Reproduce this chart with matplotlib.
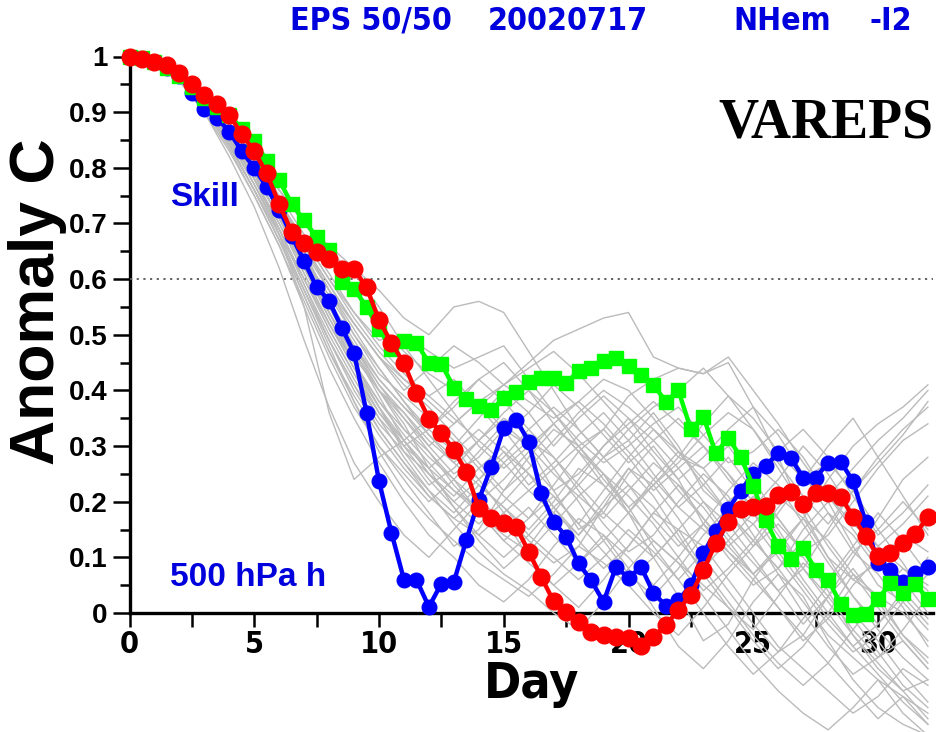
import numpy as np
import matplotlib
matplotlib.use("Agg")
import matplotlib.pyplot as plt

# --- data (days every 0.5) ---
days = np.arange(0, 32.01, 0.5)

skill_blue = [1.0, 0.995, 0.99, 0.98, 0.965, 0.935, 0.905, 0.89, 0.865, 0.83,
              0.80, 0.765, 0.725, 0.678, 0.632, 0.586, 0.561, 0.513, 0.468, 0.36,
              0.237, 0.144, 0.06, 0.06, 0.011, 0.053, 0.056, 0.131, 0.203, 0.263,
              0.332, 0.347, 0.308, 0.215, 0.164, 0.137, 0.089, 0.059, 0.02, 0.083,
              0.063, 0.083, 0.036, 0.013, 0.023, 0.05, 0.107, 0.147, 0.187, 0.22,
              0.25, 0.265, 0.287, 0.279, 0.243, 0.243, 0.27, 0.272, 0.237, 0.164,
              0.09, 0.077, 0.056, 0.072, 0.083]

skill_red = [1.0, 0.995, 0.99, 0.985, 0.97, 0.95, 0.93, 0.915, 0.895, 0.86,
             0.83, 0.79, 0.735, 0.685, 0.664, 0.649, 0.636, 0.619, 0.618, 0.585,
             0.527, 0.485, 0.449, 0.395, 0.349, 0.323, 0.293, 0.254, 0.188, 0.17,
             0.161, 0.155, 0.11, 0.065, 0.021, 0.002, -0.016, -0.034, -0.04, -0.043,
             -0.045, -0.06, -0.043, -0.022, 0.006, 0.033, 0.077, 0.125, 0.163, 0.186,
             0.19, 0.193, 0.212, 0.218, 0.196, 0.215, 0.215, 0.209, 0.173, 0.138,
             0.102, 0.108, 0.125, 0.142, 0.173]

skill_green = [1.0, 0.997, 0.99, 0.98, 0.965, 0.945, 0.925, 0.91, 0.895, 0.87,
               0.848, 0.813, 0.778, 0.735, 0.706, 0.675, 0.652, 0.595, 0.583, 0.55,
               0.51, 0.475, 0.488, 0.485, 0.45, 0.448, 0.405, 0.385, 0.372, 0.365,
               0.386, 0.398, 0.415, 0.422, 0.422, 0.413, 0.435, 0.44, 0.452, 0.458,
               0.443, 0.428, 0.41, 0.38, 0.40, 0.33, 0.353, 0.287, 0.315, 0.28,
               0.228, 0.167, 0.12, 0.097, 0.116, 0.078, 0.06, 0.017, -0.003, -0.002,
               0.025, 0.054, 0.036, 0.052, 0.025]

# ensemble members (gray), one value per day 0..32
member_days = np.arange(0, 33)
members = [
    [1.0,0.99,0.965,0.92,0.86,0.79,0.71,0.62,0.54,0.47,0.40,0.36,0.30,0.25,0.28,0.33,0.30,0.22,0.15,0.18,0.25,0.30,0.24,0.16,0.10,0.05,0.08,0.15,0.20,0.12,0.05,0.02,-0.03],
    [1.0,0.99,0.97,0.93,0.88,0.82,0.76,0.70,0.66,0.62,0.58,0.53,0.50,0.55,0.56,0.54,0.47,0.40,0.33,0.28,0.31,0.36,0.30,0.22,0.18,0.13,0.08,0.02,-0.04,-0.08,-0.12,-0.15,-0.18],
    [1.0,0.99,0.96,0.91,0.84,0.76,0.67,0.57,0.47,0.38,0.30,0.24,0.18,0.12,0.15,0.22,0.28,0.33,0.30,0.25,0.18,0.10,0.03,-0.05,-0.02,0.06,0.12,0.10,0.04,-0.04,-0.10,-0.14,-0.12],
    [1.0,0.99,0.965,0.92,0.85,0.77,0.69,0.60,0.51,0.43,0.35,0.30,0.33,0.38,0.42,0.45,0.40,0.34,0.29,0.33,0.39,0.42,0.44,0.43,0.45,0.37,0.28,0.18,0.10,0.06,0.03,0.00,-0.05],
    [1.0,0.99,0.97,0.925,0.865,0.80,0.73,0.65,0.56,0.48,0.40,0.34,0.26,0.19,0.13,0.08,0.12,0.18,0.24,0.30,0.35,0.31,0.26,0.20,0.14,0.09,0.04,0.08,0.15,0.22,0.28,0.33,0.37],
    [1.0,0.99,0.96,0.90,0.83,0.75,0.66,0.55,0.44,0.35,0.27,0.20,0.14,0.10,0.05,0.02,0.06,0.12,0.17,0.14,0.08,0.01,-0.06,-0.10,-0.05,0.02,0.07,0.03,-0.05,-0.12,-0.17,-0.20,-0.22],
    [1.0,0.99,0.97,0.93,0.87,0.81,0.74,0.66,0.59,0.52,0.46,0.41,0.37,0.32,0.27,0.22,0.26,0.31,0.36,0.40,0.37,0.33,0.28,0.26,0.30,0.24,0.17,0.11,0.14,0.20,0.26,0.31,0.34],
    [1.0,0.99,0.965,0.915,0.85,0.78,0.70,0.61,0.52,0.44,0.37,0.29,0.23,0.26,0.31,0.35,0.32,0.26,0.20,0.13,0.07,0.03,0.08,0.14,0.19,0.16,0.10,0.04,-0.02,-0.07,-0.04,0.02,0.07],
    [1.0,0.99,0.97,0.93,0.87,0.80,0.73,0.65,0.58,0.50,0.43,0.39,0.35,0.30,0.24,0.18,0.13,0.09,0.12,0.19,0.26,0.23,0.17,0.10,0.04,-0.02,-0.07,-0.04,0.03,0.10,0.17,0.24,0.28],
    [1.0,0.99,0.965,0.92,0.86,0.78,0.69,0.59,0.49,0.40,0.33,0.27,0.21,0.17,0.21,0.27,0.31,0.28,0.22,0.16,0.11,0.14,0.20,0.25,0.21,0.14,0.07,0.00,-0.06,-0.11,-0.08,-0.03,0.03],
    [1.0,0.99,0.97,0.93,0.88,0.82,0.75,0.68,0.61,0.54,0.49,0.50,0.47,0.44,0.46,0.48,0.42,0.36,0.30,0.24,0.19,0.23,0.27,0.32,0.36,0.33,0.26,0.19,0.12,0.06,0.09,0.14,0.11],
    [1.0,0.985,0.955,0.90,0.82,0.73,0.62,0.49,0.37,0.27,0.20,0.14,0.10,0.15,0.20,0.17,0.10,0.05,0.01,0.06,0.12,0.18,0.15,0.08,0.02,-0.04,-0.09,-0.13,-0.09,-0.03,0.03,0.08,0.05],
    [1.0,0.99,0.97,0.93,0.87,0.81,0.74,0.67,0.60,0.53,0.47,0.42,0.38,0.34,0.38,0.41,0.38,0.35,0.38,0.42,0.40,0.35,0.29,0.23,0.18,0.12,0.18,0.24,0.21,0.15,0.09,0.04,-0.01],
    [1.0,0.99,0.965,0.92,0.86,0.79,0.71,0.63,0.55,0.47,0.39,0.31,0.25,0.20,0.16,0.20,0.25,0.21,0.16,0.11,0.06,0.10,0.15,0.12,0.06,0.00,-0.06,-0.10,-0.14,-0.18,-0.15,-0.10,-0.13],
    [1.0,0.99,0.97,0.93,0.87,0.80,0.72,0.64,0.57,0.50,0.44,0.38,0.32,0.27,0.31,0.36,0.40,0.36,0.31,0.27,0.30,0.34,0.37,0.32,0.27,0.29,0.33,0.28,0.21,0.26,0.31,0.35,0.40],
    [1.0,0.99,0.96,0.91,0.84,0.76,0.68,0.60,0.52,0.45,0.38,0.32,0.27,0.22,0.18,0.14,0.11,0.16,0.21,0.25,0.21,0.16,0.10,0.04,0.08,0.13,0.19,0.24,0.27,0.22,0.15,0.09,0.02],
    [1.0,0.99,0.97,0.935,0.88,0.82,0.76,0.70,0.65,0.61,0.55,0.48,0.42,0.36,0.30,0.26,0.30,0.34,0.29,0.23,0.18,0.13,0.09,0.05,0.01,-0.03,0.03,0.09,0.05,-0.01,-0.07,-0.13,-0.17],
    [1.0,0.99,0.965,0.92,0.855,0.78,0.70,0.62,0.54,0.46,0.40,0.35,0.30,0.34,0.38,0.33,0.27,0.22,0.25,0.30,0.34,0.38,0.34,0.30,0.25,0.20,0.14,0.08,0.03,-0.03,-0.08,-0.05,-0.10],
    [1.0,0.99,0.97,0.925,0.86,0.79,0.71,0.63,0.55,0.48,0.41,0.36,0.31,0.27,0.23,0.19,0.15,0.20,0.26,0.23,0.18,0.23,0.28,0.34,0.39,0.35,0.29,0.24,0.30,0.35,0.28,0.21,0.14],
    [1.0,0.99,0.965,0.915,0.85,0.77,0.68,0.58,0.48,0.38,0.29,0.22,0.17,0.13,0.09,0.06,0.03,0.07,0.12,0.09,0.05,0.00,-0.04,0.01,0.07,0.12,0.16,0.11,0.05,0.00,-0.05,-0.11,-0.16],
    [1.0,0.99,0.97,0.93,0.875,0.81,0.74,0.66,0.58,0.52,0.46,0.40,0.44,0.48,0.45,0.41,0.44,0.47,0.43,0.38,0.33,0.28,0.22,0.17,0.12,0.16,0.21,0.17,0.10,0.03,-0.02,0.04,0.10],
    [1.0,0.99,0.965,0.92,0.86,0.79,0.68,0.55,0.36,0.24,0.28,0.31,0.25,0.20,0.24,0.29,0.25,0.19,0.14,0.20,0.26,0.21,0.14,0.07,0.01,-0.05,-0.10,-0.06,0.00,0.07,0.03,-0.04,-0.09],
    [1.0,0.99,0.97,0.93,0.87,0.80,0.72,0.63,0.54,0.45,0.37,0.30,0.24,0.19,0.14,0.10,0.14,0.19,0.23,0.28,0.33,0.37,0.40,0.44,0.39,0.33,0.27,0.21,0.16,0.22,0.27,0.32,0.38],
    [1.0,0.99,0.965,0.92,0.855,0.78,0.69,0.59,0.50,0.42,0.35,0.28,0.22,0.16,0.11,0.07,0.04,0.00,-0.03,0.02,0.08,0.13,0.09,0.03,-0.03,-0.09,-0.14,-0.18,-0.21,-0.17,-0.12,-0.18,-0.22],
    [1.0,0.99,0.97,0.935,0.88,0.82,0.76,0.70,0.64,0.58,0.52,0.47,0.43,0.40,0.37,0.41,0.45,0.49,0.51,0.53,0.54,0.46,0.44,0.43,0.46,0.40,0.34,0.27,0.21,0.16,0.12,0.08,0.04],
    [1.0,0.99,0.965,0.92,0.86,0.79,0.71,0.62,0.53,0.45,0.38,0.33,0.29,0.24,0.20,0.24,0.29,0.34,0.38,0.34,0.29,0.24,0.19,0.15,0.11,0.07,0.11,0.17,0.24,0.30,0.34,0.37,0.41],
    [1.0,0.99,0.965,0.915,0.85,0.77,0.68,0.58,0.49,0.41,0.34,0.29,0.25,0.21,0.26,0.30,0.25,0.19,0.13,0.08,0.12,0.18,0.23,0.19,0.13,0.07,0.01,-0.05,-0.01,0.05,0.10,0.06,0.00],
    [1.0,0.99,0.97,0.93,0.87,0.80,0.72,0.64,0.56,0.49,0.42,0.37,0.32,0.28,0.24,0.28,0.33,0.37,0.33,0.28,0.23,0.17,0.12,0.16,0.22,0.27,0.23,0.16,0.09,0.03,-0.03,-0.08,-0.12],
    [1.0,0.99,0.96,0.905,0.835,0.75,0.66,0.56,0.46,0.37,0.30,0.25,0.20,0.24,0.18,0.13,0.17,0.23,0.29,0.25,0.19,0.12,0.06,0.00,-0.06,-0.11,-0.07,-0.01,0.05,0.11,0.07,0.01,-0.06],
    [1.0,0.99,0.97,0.925,0.865,0.79,0.71,0.63,0.55,0.48,0.42,0.37,0.33,0.29,0.33,0.29,0.23,0.27,0.32,0.36,0.31,0.25,0.19,0.23,0.28,0.22,0.15,0.08,0.02,-0.04,-0.09,-0.14,-0.19],
    [1.0,0.99,0.965,0.92,0.86,0.79,0.71,0.62,0.53,0.45,0.37,0.31,0.26,0.22,0.19,0.15,0.19,0.14,0.09,0.13,0.18,0.24,0.29,0.26,0.20,0.24,0.29,0.33,0.28,0.21,0.14,0.18,0.23],
    [1.0,0.99,0.97,0.93,0.875,0.81,0.74,0.67,0.60,0.54,0.48,0.43,0.39,0.35,0.31,0.27,0.22,0.26,0.30,0.33,0.28,0.22,0.26,0.30,0.25,0.18,0.11,0.05,-0.01,-0.06,-0.02,0.03,-0.02],
    [1.0,0.99,0.965,0.915,0.845,0.76,0.67,0.57,0.47,0.39,0.32,0.26,0.21,0.17,0.14,0.18,0.22,0.18,0.14,0.19,0.23,0.19,0.13,0.08,0.13,0.18,0.13,0.06,0.00,-0.06,-0.11,-0.16,-0.20],
    [1.0,0.99,0.97,0.93,0.87,0.80,0.73,0.66,0.59,0.52,0.46,0.42,0.39,0.42,0.37,0.32,0.36,0.41,0.37,0.32,0.27,0.31,0.35,0.30,0.24,0.19,0.24,0.30,0.25,0.18,0.12,0.16,0.21],
    [1.0,0.99,0.96,0.91,0.84,0.76,0.67,0.58,0.49,0.41,0.33,0.27,0.22,0.18,0.23,0.19,0.14,0.10,0.06,0.10,0.15,0.11,0.06,0.11,0.16,0.21,0.17,0.11,0.06,0.12,0.18,0.13,0.07],
    [1.0,0.99,0.97,0.925,0.86,0.79,0.71,0.63,0.55,0.47,0.40,0.33,0.28,0.24,0.29,0.34,0.30,0.25,0.21,0.17,0.22,0.27,0.23,0.17,0.11,0.06,0.01,-0.04,-0.09,-0.14,-0.19,-0.15,-0.20],
    [1.0,0.99,0.965,0.92,0.855,0.78,0.70,0.61,0.52,0.44,0.36,0.30,0.26,0.30,0.35,0.40,0.36,0.30,0.35,0.39,0.35,0.29,0.24,0.28,0.33,0.37,0.32,0.25,0.18,0.11,0.15,0.20,0.15],
    [1.0,0.99,0.97,0.93,0.87,0.80,0.72,0.64,0.56,0.48,0.41,0.35,0.29,0.23,0.18,0.13,0.09,0.05,0.09,0.14,0.10,0.05,0.10,0.16,0.12,0.07,0.12,0.17,0.13,0.07,0.01,-0.05,-0.10],
    [1.0,0.99,0.965,0.92,0.86,0.78,0.69,0.60,0.51,0.43,0.36,0.31,0.35,0.31,0.26,0.21,0.17,0.21,0.16,0.22,0.28,0.33,0.29,0.24,0.18,0.13,0.08,0.13,0.18,0.14,0.08,0.12,0.17],
    [1.0,0.99,0.97,0.93,0.88,0.81,0.74,0.66,0.58,0.51,0.44,0.38,0.33,0.37,0.42,0.38,0.33,0.28,0.23,0.18,0.14,0.10,0.15,0.20,0.16,0.10,0.04,-0.02,0.03,0.08,0.02,-0.04,-0.08],
]

sans = "Liberation Sans"
serif = "Liberation Serif"
cond = dict(family="DejaVu Sans", fontstretch="condensed")

W, H = 936, 732
fig = plt.figure(figsize=(W / 100, H / 100), dpi=100)

# axes geometry (pixels): day 0 at x=129.5, 24.95 px/day; value 0 at y=613, 556.5 px per unit
x0_px, px_day = 129.5, 24.95
y0_px, px_val = 613.0, 556.5
xmax = (933 - x0_px) / px_day
ymin = -(H - y0_px) / px_val
ax = fig.add_axes([x0_px / W, 0.0, (933 - x0_px) / W, (H - (y0_px - px_val)) / H])
ax.set_xlim(0, xmax)
ax.set_ylim(ymin, 1.0)

for m in members:
    ax.plot(member_days, m, color="#bbbbbb", lw=1.0, zorder=3)

ax.axhline(0.6, color="#555555", lw=1.3, ls=(0, (1.2, 2.5)), zorder=2)

ax.plot(days, skill_blue, color="#0000ff", lw=3.2, marker="o", ms=10.5,
        zorder=5, clip_on=False)
ax.plot(days, skill_green, color="#00ff00", lw=3.2, marker="s", ms=10,
        zorder=6, clip_on=False)
ax.plot(days, skill_red, color="#ff0000", lw=3.2, marker="o", ms=12,
        zorder=7, clip_on=False)

# spines / ticks
for s in ["top", "right"]:
    ax.spines[s].set_visible(False)
ax.spines["left"].set_bounds(0, 1)
ax.spines["bottom"].set_position(("data", 0))
ax.spines["left"].set_linewidth(2.4)
ax.spines["bottom"].set_linewidth(2.4)
ax.spines["bottom"].set_zorder(1)
ax.spines["left"].set_zorder(1)

ax.set_yticks(np.round(np.arange(0, 1.01, 0.1), 1))
ax.set_yticklabels(["0"] + ["%.1f" % v for v in np.arange(0.1, 0.95, 0.1)] + ["1"])
ax.set_yticks(np.arange(0.05, 1.0, 0.1), minor=True)
ax.set_xticks(np.arange(2.5, 32, 5), minor=True)
ax.set_xticks(np.arange(0, 31, 5))
ax.tick_params(axis="x", which="major", direction="out", length=10, width=1.8, pad=2)
ax.tick_params(axis="x", which="minor", direction="out", length=10, width=1.8)
ax.tick_params(axis="y", which="major", direction="out", length=12, width=1.8, pad=4)
ax.tick_params(axis="y", which="minor", direction="out", length=7, width=1.8)
for lab in ax.get_xticklabels():
    lab.set_fontfamily("DejaVu Sans")
    lab.set_fontstretch("condensed")
    lab.set_fontweight("bold")
    lab.set_fontsize(22)
for lab in ax.get_yticklabels():
    lab.set_fontfamily(sans)
    lab.set_fontweight("bold")
    lab.set_fontsize(20)

ax.patch.set_alpha(0)


def ftext(x, y, s, **kw):
    fig.text(x / W, 1 - y / H, s, **kw)


# title pieces
tkw = dict(color="#0000dd", fontsize=23, fontweight="bold", va="center", **cond)
ftext(290, 21, "EPS 50/50", ha="left", **tkw)
ftext(488, 21, "20020717", ha="left", **tkw)
ftext(733, 21, "NHem", ha="left", **tkw)
ftext(912, 21, "-I2", ha="right", **tkw)

ftext(38, 302, "Anomaly C", rotation=90, ha="center", va="center",
      fontsize=45, fontweight="bold", family=sans, color="black")
ftext(532, 684, "Day", ha="center", va="center", fontsize=36,
      fontweight="bold", color="black", **cond)
ftext(170, 198, "Skill", ha="left", va="center", fontsize=24,
      fontweight="bold", family=sans, color="#0000dd")
ftext(170, 577, "500 hPa h", ha="left", va="center", fontsize=24,
      fontweight="bold", family=sans, color="#0000dd")
ftext(933, 124, "VAREPS", ha="right", va="center", fontsize=40,
      fontweight="bold", family=serif, color="black")

fig.savefig("out.png", dpi=100)
